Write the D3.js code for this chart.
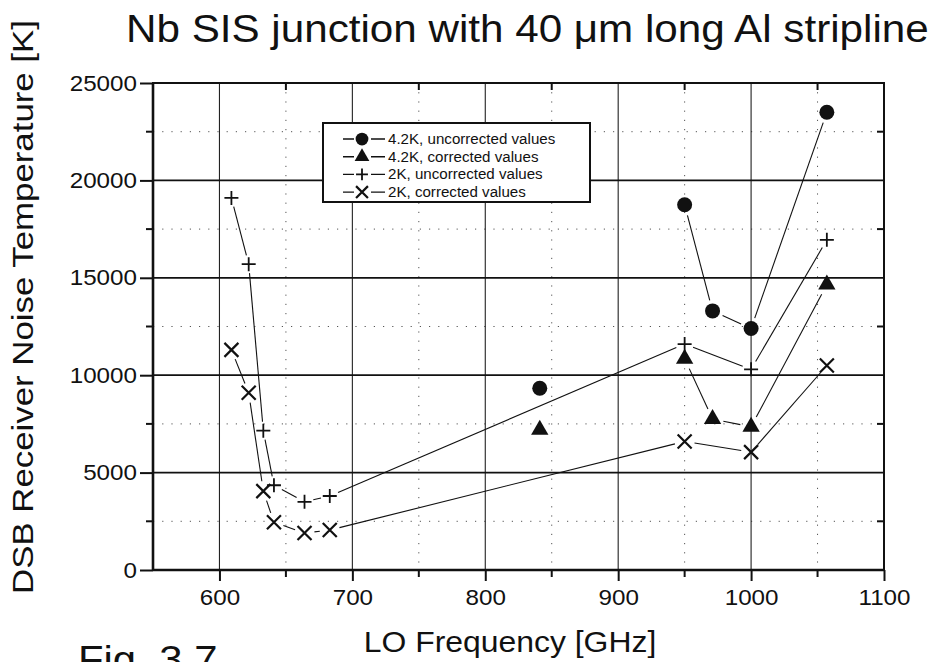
<!DOCTYPE html>
<html>
<head>
<meta charset="utf-8">
<script src="https://cdn.jsdelivr.net/npm/d3@7/dist/d3.min.js"></script>
<style>
  html, body { margin: 0; padding: 0; background: #fff; }
  svg { display: block; }
  text { font-family: "Liberation Sans", Arial, Helvetica, sans-serif; fill: #111; }
</style>
</head>
<body>
<svg id="chart" width="936" height="662"></svg>
<script>
// LO frequency sweep, 2 K bath
const freq2K = [609, 622, 633, 641, 664, 683, 950, 1000, 1057];
const uncorrected2K = [19100, 15700, 7150, 4350, 3500, 3800, 11600, 10300, 16950];
const corrected2K = [11300, 9100, 4050, 2450, 1900, 2050, 6600, 6050, 10500];

// LO frequency sweep, 4.2 K bath (first point measured on its own)
const freq42K = [841, 950, 971, 1000, 1057];
const uncorrected42K = [9330, 18750, 13300, 12400, 23500];
const corrected42K = [7200, 10850, 7750, 7350, 14650];
const joined42K = [false, false, true, true, true];   // joined to previous point?
const joined2K = [false, true, true, true, true, true, true, true, true];

const xMajorTicks = [600, 700, 800, 900, 1000, 1100];
const xMinorTicks = [550, 650, 750, 850, 950, 1050];
const yMajorTicks = [0, 5000, 10000, 15000, 20000, 25000];
const yMinorTicks = [2500, 7500, 12500, 17500, 22500];

const legendLabels = [
  "4.2K, uncorrected values",
  "4.2K, corrected values",
  "2K, uncorrected values",
  "2K, corrected values"
];

const svg = d3.select("#chart");
const x = d3.scaleLinear().domain([550, 1100]).range([153, 884]);
const y = d3.scaleLinear().domain([0, 25000]).range([570, 83]);

// the lettering is a slightly wide grotesque: widen the text along its baseline
function widen(sel, factor) {
  sel.each(function () {
    const w = this.getComputedTextLength();
    d3.select(this).attr("textLength", w * factor).attr("lengthAdjust", "spacingAndGlyphs");
  });
}

// dotted minor grid
const grid = svg.append("g");
grid.selectAll("line.vminor").data(xMinorTicks.slice(1)).join("line")
  .attr("x1", d => x(d)).attr("x2", d => x(d))
  .attr("y1", y(25000)).attr("y2", y(0))
  .attr("stroke", "#555").attr("stroke-width", 1).attr("stroke-dasharray", "1.2,8");
grid.selectAll("line.hminor").data(yMinorTicks).join("line")
  .attr("x1", x(550)).attr("x2", x(1100))
  .attr("y1", d => y(d)).attr("y2", d => y(d))
  .attr("stroke", "#555").attr("stroke-width", 1).attr("stroke-dasharray", "1.2,8");

// solid major grid
grid.selectAll("line.vmajor").data(xMajorTicks.slice(0, -1)).join("line")
  .attr("x1", d => x(d)).attr("x2", d => x(d))
  .attr("y1", y(25000)).attr("y2", y(0))
  .attr("stroke", "#222").attr("stroke-width", 1.1);
grid.selectAll("line.hmajor").data(yMajorTicks.slice(1, -1)).join("line")
  .attr("x1", x(550)).attr("x2", x(1100))
  .attr("y1", d => y(d)).attr("y2", d => y(d))
  .attr("stroke", "#111").attr("stroke-width", 1.7);

// frame
svg.append("rect")
  .attr("x", x(550)).attr("y", y(25000))
  .attr("width", x(1100) - x(550)).attr("height", y(0) - y(25000))
  .attr("fill", "none").attr("stroke", "#111").attr("stroke-width", 2);

// axes
const xAxis = svg.append("g").attr("transform", `translate(0,${y(0)})`)
  .call(d3.axisBottom(x).tickValues(xMajorTicks).tickSize(11).tickPadding(8).tickFormat(d3.format("d")));
const yAxis = svg.append("g").attr("transform", `translate(${x(550)},0)`)
  .call(d3.axisLeft(y).tickValues(yMajorTicks).tickSize(13).tickPadding(3).tickFormat(d3.format("d")));
[xAxis, yAxis].forEach(g => {
  g.select(".domain").attr("stroke", "#111").attr("stroke-width", 2.6);
  g.selectAll(".tick line").attr("stroke", "#111").attr("stroke-width", 2);
  g.selectAll(".tick text").attr("fill", "#111")
    .style("font-family", '"Liberation Sans", Arial, sans-serif').style("font-size", "22px");
  widen(g.selectAll(".tick text"), 1.1);
});
xAxis.select(".domain").attr("d", `M${x(550)},0H${x(1100)}`);
yAxis.select(".domain").attr("d", `M0,${y(0)}V${y(25000)}`);

// minor ticks outside and inside the frame
svg.append("g").selectAll("line").data(xMinorTicks.slice(1)).join("line")
  .attr("x1", d => x(d)).attr("x2", d => x(d))
  .attr("y1", y(0)).attr("y2", y(0) + 7).attr("stroke", "#111").attr("stroke-width", 2);
svg.append("g").selectAll("line").data(xMinorTicks.slice(1)).join("line")
  .attr("x1", d => x(d)).attr("x2", d => x(d))
  .attr("y1", y(25000)).attr("y2", y(25000) + 7).attr("stroke", "#111").attr("stroke-width", 2);
svg.append("g").selectAll("line").data(yMinorTicks).join("line")
  .attr("x1", x(550) - 7).attr("x2", x(550))
  .attr("y1", d => y(d)).attr("y2", d => y(d)).attr("stroke", "#111").attr("stroke-width", 2);
svg.append("g").selectAll("line").data(yMinorTicks).join("line")
  .attr("x1", x(1100) - 7).attr("x2", x(1100))
  .attr("y1", d => y(d)).attr("y2", d => y(d)).attr("stroke", "#111").attr("stroke-width", 2);

// connecting lines stop short of the markers
function drawSeries(freqs, values, joined, gap) {
  const pts = freqs.map((f, i) => [x(f), y(values[i])]);
  const g = svg.append("g");
  for (let i = 1; i < pts.length; i++) {
    if (!joined[i]) continue;
    const [x0, y0] = pts[i - 1], [x1, y1] = pts[i];
    const len = Math.hypot(x1 - x0, y1 - y0);
    if (len <= 2 * gap) continue;
    const ux = (x1 - x0) / len, uy = (y1 - y0) / len;
    g.append("path")
      .attr("d", d3.line()([[x0 + ux * gap, y0 + uy * gap], [x1 - ux * gap, y1 - uy * gap]]))
      .attr("stroke", "#111").attr("stroke-width", 1.1).attr("fill", "none");
  }
  return pts;
}

const markers = {
  circle: (g, px, py, s) => g.append("circle").attr("cx", px).attr("cy", py).attr("r", 7.5 * s).attr("fill", "#111"),
  triangle: (g, px, py, s) => g.append("path").attr("transform", `translate(${px},${py})`)
    .attr("d", d3.symbol().type(d3.symbolTriangle).size(130 * s * s)()).attr("fill", "#111"),
  plus: (g, px, py, s) => g.append("path")
    .attr("d", `M${px - 7 * s},${py}H${px + 7 * s}M${px},${py - 7 * s}V${py + 7 * s}`)
    .attr("stroke", "#111").attr("stroke-width", 1.8).attr("fill", "none"),
  cross: (g, px, py, s) => g.append("path")
    .attr("d", `M${px - 7 * s},${py - 7 * s}L${px + 7 * s},${py + 7 * s}M${px - 7 * s},${py + 7 * s}L${px + 7 * s},${py - 7 * s}`)
    .attr("stroke", "#111").attr("stroke-width", 2.2).attr("fill", "none")
};

const series = [
  { f: freq42K, v: uncorrected42K, j: joined42K, m: "circle", gap: 11 },
  { f: freq42K, v: corrected42K, j: joined42K, m: "triangle", gap: 11 },
  { f: freq2K, v: uncorrected2K, j: joined2K, m: "plus", gap: 9 },
  { f: freq2K, v: corrected2K, j: joined2K, m: "cross", gap: 10 }
];
series.forEach(s => {
  const pts = drawSeries(s.f, s.v, s.j, s.gap);
  const g = svg.append("g");
  pts.forEach(([px, py]) => markers[s.m](g, px, py, 1));
});

// legend
const leg = svg.append("g");
leg.append("rect").attr("x", 323).attr("y", 123).attr("width", 267).attr("height", 79)
  .attr("fill", "#fff").attr("stroke", "#111").attr("stroke-width", 2);
series.forEach((s, i) => {
  const ly = 139 + i * 17.7;
  leg.append("line").attr("x1", 343).attr("x2", 385).attr("y1", ly).attr("y2", ly)
    .attr("stroke", "#111").attr("stroke-width", 1.4);
  leg.append("rect").attr("x", 354).attr("y", ly - 2).attr("width", 17).attr("height", 4).attr("fill", "#fff");
  markers[s.m](leg, 362, ly, 0.85);
  const t = leg.append("text").attr("x", 388).attr("y", ly + 5).style("font-size", "14px")
    .text(legendLabels[i]);
  widen(t, 1.08);
});

// titles
const title = svg.append("text").attr("x", 126).attr("y", 42)
  .style("font-size", "38px").text("Nb SIS junction with 40 μm long Al stripline");
widen(title, 1.11);
const yTitle = svg.append("text").attr("transform", "translate(33,307) rotate(-90)").attr("text-anchor", "middle")
  .style("font-size", "30px").text("DSB Receiver Noise Temperature [K]");
widen(yTitle, 1.16);
const xTitle = svg.append("text").attr("x", 510).attr("y", 652).attr("text-anchor", "middle")
  .style("font-size", "29px").text("LO Frequency [GHz]");
widen(xTitle, 1.1);
const fig = svg.append("text").attr("x", 78).attr("y", 673)
  .style("font-size", "38px").text("Fig. 3.7");
widen(fig, 1.1);
</script>
</body>
</html>
